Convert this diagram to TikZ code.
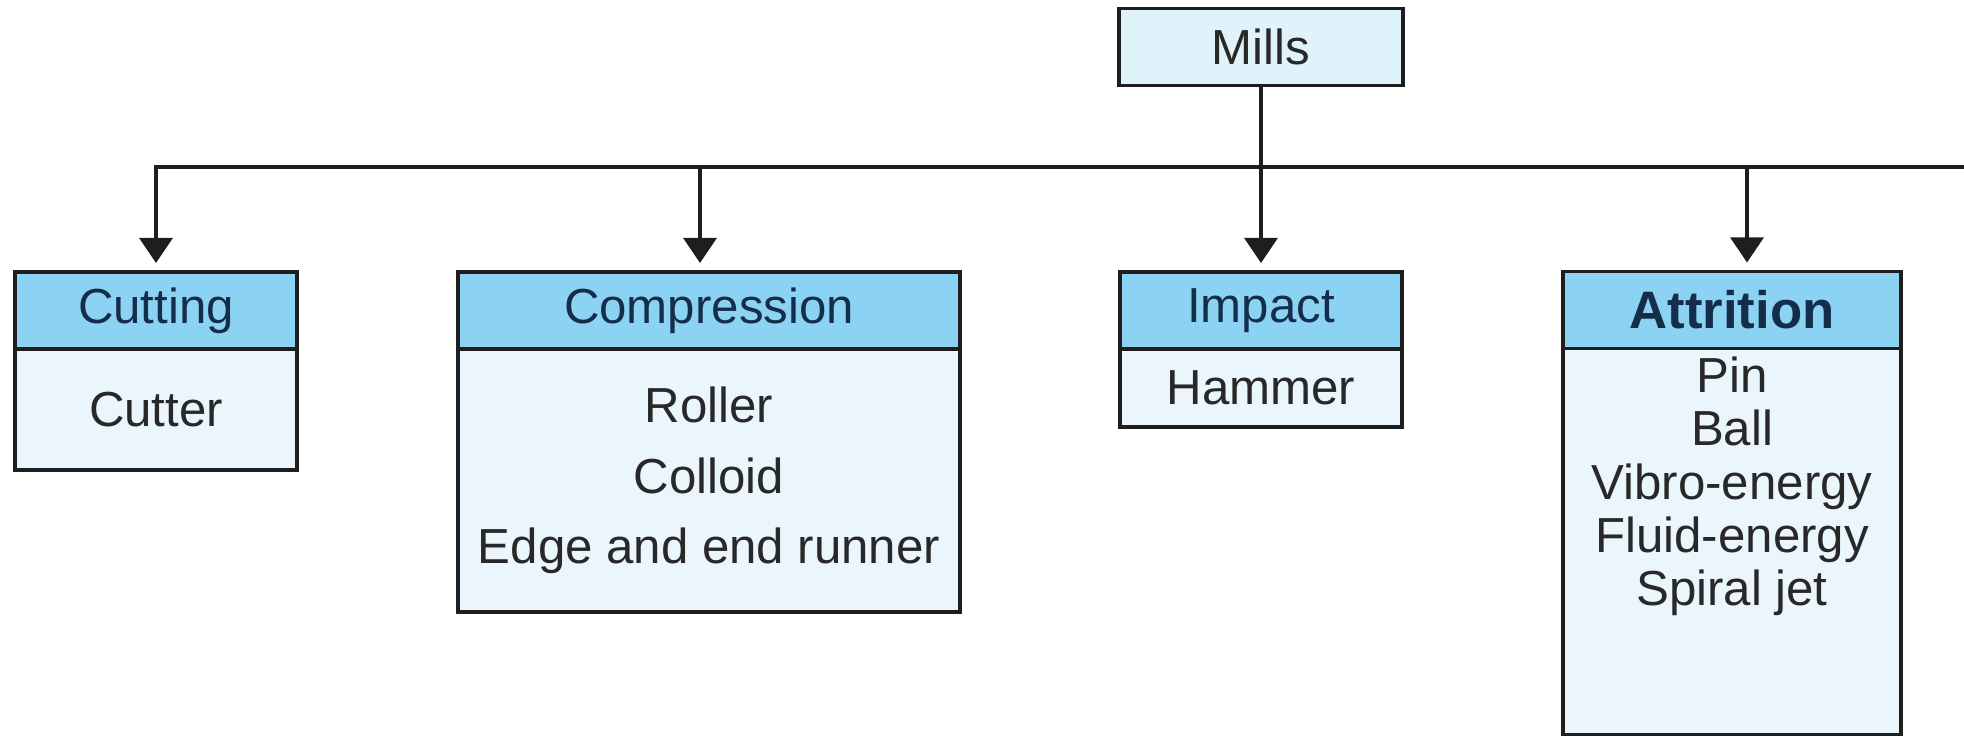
\documentclass[tikz,border=0pt]{standalone}
\usepackage{fontspec}
\setmainfont{Liberation Sans}
\usetikzlibrary{arrows.meta, positioning}
\definecolor{headblue}{RGB}{140, 210, 242}
\definecolor{bodyblue}{RGB}{234, 245, 252}
\definecolor{topblue}{RGB}{224, 242, 250}
\definecolor{linegray}{RGB}{30, 30, 30}
\definecolor{headtext}{RGB}{20, 45, 75}
\definecolor{bodytext}{RGB}{40, 40, 40}
\tikzset{
  headbox/.style={rectangle, draw=linegray, line width=0.9pt, fill=headblue,
              minimum width=#1, minimum height=0.77cm, outer sep=0pt,
              text=headtext, font=\fontsize{14}{16}\selectfont, inner sep=0pt},
  headbox/.default=2.82cm,
  bodybox/.style={rectangle, draw=linegray, line width=0.9pt, fill=bodyblue,
              minimum width=#1, align=center, outer sep=0pt, text=bodytext,
              font=\fontsize{14}{20}\selectfont, inner sep=0pt},
  bodybox/.default=2.82cm,
  arrow/.style={-{Triangle[length=0.25cm, width=0.33cm]}, line width=0.9pt,
              color=linegray, shorten >=0.09cm},
}

\begin{document}
\begin{tikzpicture}
  \useasboundingbox (0,0) rectangle (19.64,-7.37);

  \node[headbox=2.84cm, fill=topblue, text=bodytext] (mills) at (12.61,-0.47) {Mills};

  \node[headbox] (cuthead) at (1.56,-3.105) {Cutting};
  \node[bodybox, minimum height=1.21cm, below=0pt of cuthead] (cutbody) {Cutter};

  \node[headbox=5.02cm] (comphead) at (7.09,-3.105) {Compression};
  \node[bodybox=5.02cm, minimum height=2.63cm, below=0pt of comphead] (compbody)
        {Roller\\Colloid\\Edge and end runner};

  \node[headbox] (imphead) at (12.61,-3.105) {Impact};
  \node[bodybox, minimum height=0.78cm, below=0pt of imphead] (impbody) {Hammer};

  \node[headbox=3.38cm, font=\fontsize{15}{17}\selectfont\bfseries] (attrhead) at (17.32,-3.10) {Attrition};
  \node[bodybox=3.38cm, inner ysep=0.08cm, font=\fontsize{14}{15.2}\selectfont, below=0pt of attrhead] (attrbody)
        {Pin\\Ball\\Vibro-energy\\Fluid-energy\\Spiral jet\rule[-1.21cm]{0pt}{1.21cm}};

  \coordinate (busr) at (19.64,-1.67);

  \draw[arrow] (busr) -| (cuthead.north);
  \draw[arrow] ([xshift=-0.09cm]comphead.north |- busr) -- ([xshift=-0.09cm]comphead.north);
  \draw[arrow] (mills) -- (imphead);
  \draw[arrow] ([xshift=0.15cm]attrhead.north |- busr) -- ([xshift=0.15cm]attrhead.north);
\end{tikzpicture}
\end{document}
